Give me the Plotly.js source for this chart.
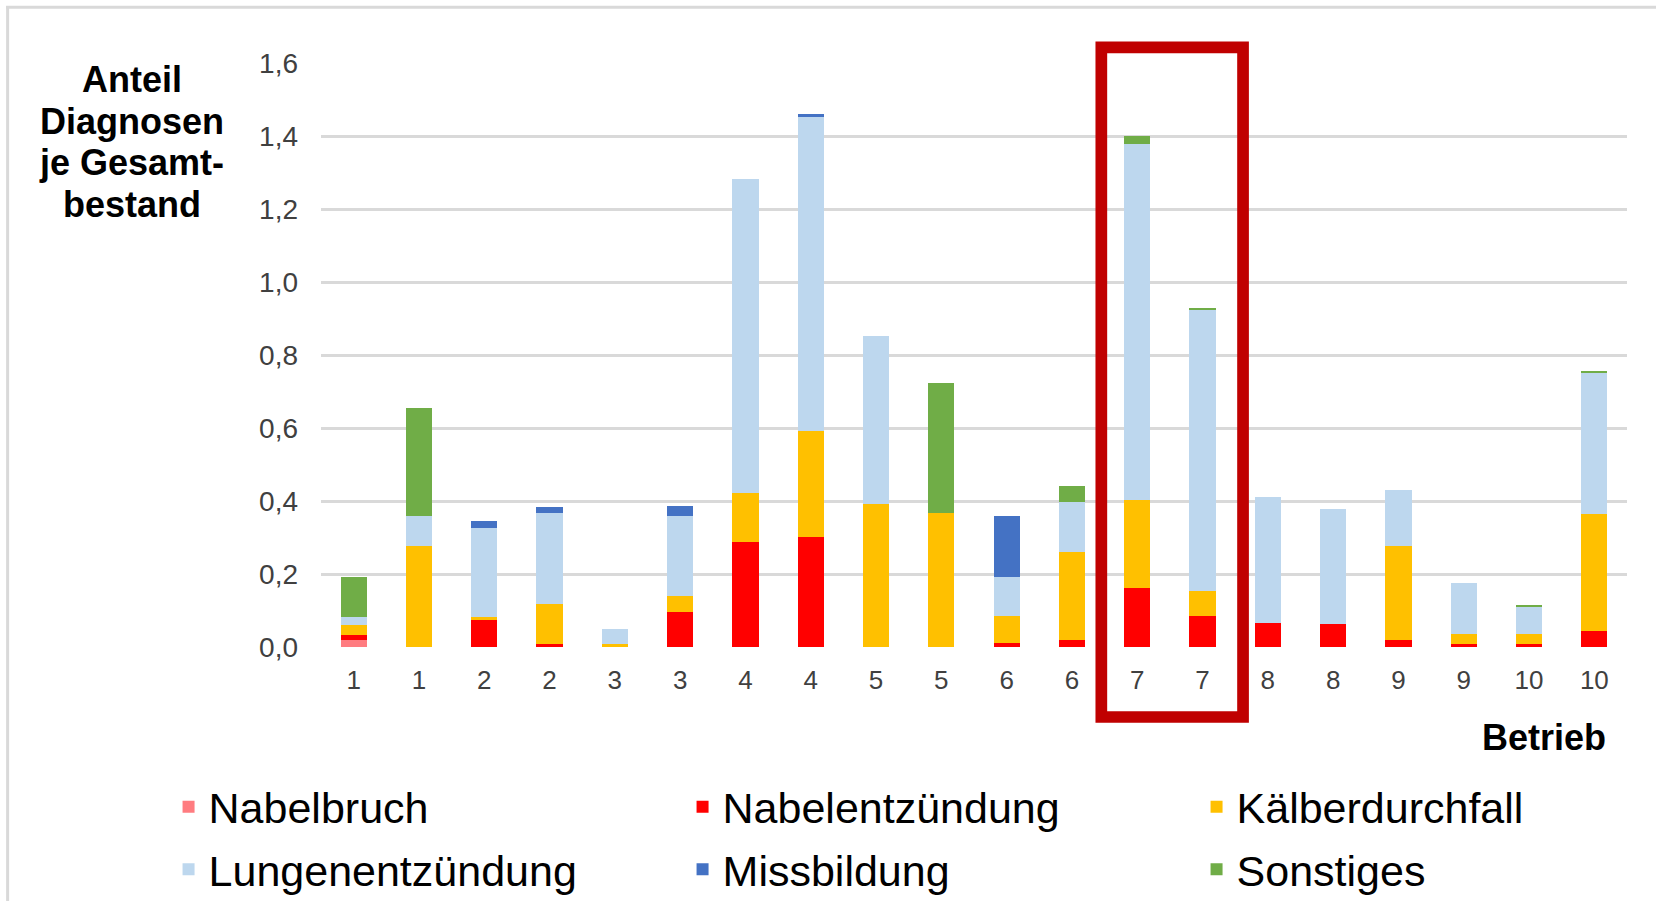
<!DOCTYPE html>
<html>
<head>
<meta charset="utf-8">
<script src="https://cdn.plot.ly/plotly-3.0.1.min.js"></script>
<style>
html, body { margin: 0; padding: 0; background: #ffffff; }
#chart { width: 1656px; height: 901px; }
</style>
</head>
<body>
<div id="chart"></div>
<script>
// ---- data ----
const betrieb = ['1','1','2','2','3','3','4','4','5','5','6','6','7','7','8','8','9','9','10','10'];
const nabelbruch       = [0.018, 0, 0, 0, 0, 0, 0, 0, 0, 0, 0, 0, 0, 0, 0, 0, 0, 0, 0, 0];
const nabelentzuendung = [0.015, 0, 0.076, 0.009, 0, 0.095, 0.287, 0.301, 0, 0, 0.010, 0.018, 0.163, 0.086, 0.067, 0.062, 0.018, 0.009, 0.009, 0.043];
const kaelberdurchfall = [0.028, 0.278, 0.005, 0.110, 0.009, 0.044, 0.134, 0.292, 0.393, 0.367, 0.075, 0.241, 0.239, 0.067, 0, 0, 0.259, 0.028, 0.028, 0.321];
const lungenentzuendung= [0.020, 0.080, 0.244, 0.248, 0.039, 0.219, 0.862, 0.858, 0.460, 0, 0.106, 0.138, 0.977, 0.771, 0.344, 0.315, 0.153, 0.139, 0.073, 0.388];
const missbildung      = [0, 0, 0.020, 0.016, 0, 0.029, 0, 0.010, 0, 0, 0.167, 0, 0, 0, 0, 0, 0, 0, 0, 0];
const sonstiges        = [0.110, 0.298, 0, 0, 0, 0, 0, 0, 0, 0.357, 0, 0.043, 0.020, 0.006, 0, 0, 0, 0, 0.003, 0.004];
const yTickVals = [0, 0.2, 0.4, 0.6, 0.8, 1.0, 1.2, 1.4, 1.6];
const yTitleLines = ['Anteil', 'Diagnosen', 'je Gesamt-', 'bestand'];
const xTitle = 'Betrieb';

// ---- layout helpers ----
const W = 1656, H = 901;
const M = { l: 321, r: 28.5, t: 62.5, b: 254.3 };
const PW = W - M.l - M.r, PH = H - M.t - M.b;
const px = x => (x - M.l) / PW;
const py = y => (H - M.b - y) / PH;
const FONT = 'Liberation Sans, Arial, Helvetica, sans-serif';

const xIdx = betrieb.map((_, i) => i);

const series = [
  { name: 'Nabelbruch',        y: nabelbruch,        color: '#FF7C80', legend: 'legend'  },
  { name: 'Nabelentzündung',   y: nabelentzuendung,  color: '#FF0000', legend: 'legend'  },
  { name: 'Kälberdurchfall',   y: kaelberdurchfall,  color: '#FFC000', legend: 'legend'  },
  { name: 'Lungenentzündung',  y: lungenentzuendung, color: '#BDD7EE', legend: 'legend2' },
  { name: 'Missbildung',       y: missbildung,       color: '#4472C4', legend: 'legend2' },
  { name: 'Sonstiges',         y: sonstiges,         color: '#70AD47', legend: 'legend2' }
];

const traces = series.map(s => ({
  type: 'bar',
  x: xIdx,
  y: s.y,
  name: s.name,
  legend: s.legend,
  marker: { color: s.color, line: { width: 0 } },
  hoverinfo: 'name+y'
}));

const annotations = [];
const titleCenters = [78.8, 120.9, 162, 203.7];
yTitleLines.forEach((t, i) => {
  annotations.push({
    text: '<b>' + t + '</b>',
    xref: 'paper', yref: 'paper',
    x: px(131.5), y: py(titleCenters[i]),
    xanchor: 'center', yanchor: 'middle',
    showarrow: false,
    font: { family: FONT, size: 36, color: '#000000' }
  });
});
annotations.push({
  text: '<b>' + xTitle + '</b>',
  xref: 'paper', yref: 'paper',
  x: px(1608), y: py(737.5),
  xanchor: 'right', yanchor: 'middle',
  showarrow: false,
  font: { family: FONT, size: 36, color: '#000000' }
});

const shapes = [
  // highlight box around Betrieb 7
  { type: 'rect', xref: 'x', yref: 'paper', x0: 11.45, x1: 13.62, y0: py(716.7), y1: py(46.9),
    line: { color: '#C00000', width: 11.7 }, fillcolor: 'rgba(0,0,0,0)', layer: 'above' },
  // light frame of the chart area
  { type: 'line', xref: 'paper', yref: 'paper', x0: px(6), x1: px(1660), y0: py(6.7), y1: py(6.7),
    line: { color: '#D9D9D9', width: 3 } },
  { type: 'line', xref: 'paper', yref: 'paper', x0: px(7.5), x1: px(7.5), y0: py(5.5), y1: py(905),
    line: { color: '#D9D9D9', width: 3 } }
];

const legendBase = {
  orientation: 'h',
  x: px(168.5), xanchor: 'left',
  yanchor: 'top',
  font: { family: FONT, size: 43, color: '#000000' },
  entrywidth: 469, entrywidthmode: 'pixels',
  bgcolor: 'rgba(0,0,0,0)', borderwidth: 0,
  traceorder: 'normal'
};

const layout = {
  width: W, height: H,
  margin: { l: M.l, r: M.r, t: M.t, b: M.b, pad: 0, autoexpand: false },
  paper_bgcolor: '#ffffff', plot_bgcolor: '#ffffff',
  separators: ',.',
  barmode: 'stack',
  bargap: 0.6,
  font: { family: FONT, color: '#404040' },
  xaxis: {
    range: [-0.5, 19.5],
    tickmode: 'array', tickvals: xIdx, ticktext: betrieb,
    tickfont: { family: FONT, size: 26, color: '#404040' },
    showgrid: false, zeroline: false, showline: false, ticks: '',
    ticklabelstandoff: 15,
    fixedrange: true
  },
  yaxis: {
    range: [0, 1.6],
    tickmode: 'array', tickvals: yTickVals, tickformat: '.1f',
    tickfont: { family: FONT, size: 28, color: '#404040' },
    showgrid: true, gridcolor: '#D9D9D9', gridwidth: 2.5,
    zeroline: false, showline: false, ticks: '',
    ticklabelstandoff: 22,
    fixedrange: true
  },
  legend: Object.assign({}, legendBase, { y: py(772) }),
  legend2: Object.assign({}, legendBase, { y: py(834.5) }),
  annotations: annotations,
  shapes: shapes,
  showlegend: true
};

Plotly.newPlot('chart', traces, layout, { displayModeBar: false, responsive: false });
</script>
</body>
</html>
